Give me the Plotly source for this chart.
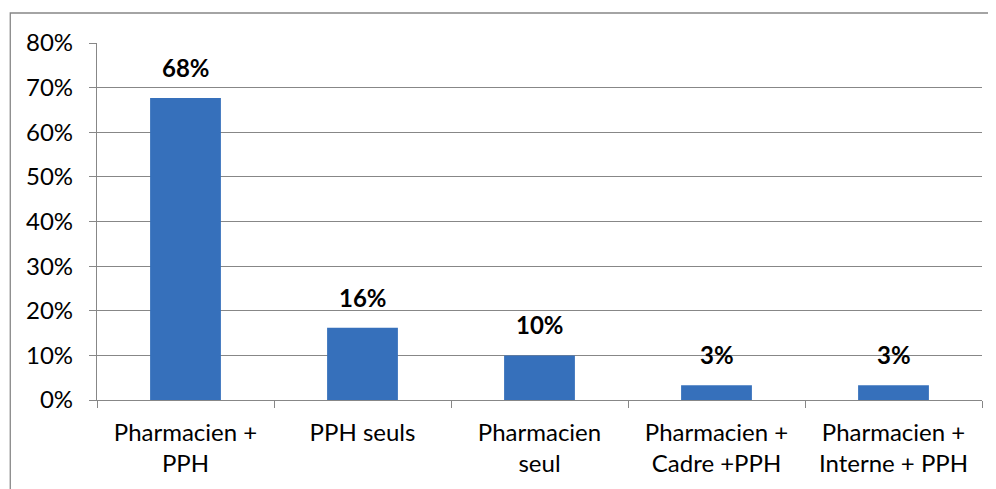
import plotly.graph_objects as go

categories = ["Pharmacien +<br>PPH", "PPH seuls", "Pharmacien<br>seul",
              "Pharmacien +<br>Cadre +PPH", "Pharmacien +<br>Interne + PPH"]
values = [0.677, 0.162, 0.10, 0.033, 0.033]
labels = ["68%", "16%", "10%", "3%", "3%"]
tick_vals = [0, 0.1, 0.2, 0.3, 0.4, 0.5, 0.6, 0.7, 0.8]

FONT = "Lato, Carlito, Calibri, sans-serif"
GRID = "#878787"

fig = go.Figure()
fig.add_trace(go.Bar(
    x=categories, y=values,
    marker=dict(color="#3670bb", line=dict(width=0)),
    hoverinfo="skip",
))

for c, v, t in zip(categories, values, labels):
    fig.add_annotation(x=c, y=v, text="<b>" + t + "</b>", showarrow=False,
                       yanchor="bottom", yshift=14,
                       font=dict(family=FONT, size=24, color="black"))

fig.add_shape(type="rect", xref="paper", yref="paper",
              x0=-0.098, y0=-0.4, x1=1.05, y1=1.084,
              line=dict(color=GRID, width=1.3), layer="below")

fig.update_layout(
    width=996, height=489,
    margin=dict(l=89, r=22, t=35, b=97),
    paper_bgcolor="white", plot_bgcolor="white",
    bargap=0.6, showlegend=False,
    font=dict(family=FONT, size=22, color="black"),
    xaxis=dict(
        showgrid=False, showline=True, linecolor=GRID, linewidth=1.3,
        ticks="outside", tickson="boundaries", ticklen=7, tickcolor=GRID,
        tickwidth=1.3, ticklabelstandoff=11, automargin=False,
        tickfont=dict(family=FONT, size=24, color="black"),
    ),
    yaxis=dict(
        range=[0, 0.8], tickvals=tick_vals, tickformat=".0%",
        showgrid=True, gridcolor=GRID, gridwidth=1.3,
        showline=True, linecolor=GRID, linewidth=1.3,
        ticks="outside", ticklen=7, tickcolor=GRID, tickwidth=1.3,
        ticklabelstandoff=11, zeroline=False, automargin=False,
        tickfont=dict(family=FONT, size=24, color="black"),
    ),
)

fig.write_html("out.html")
